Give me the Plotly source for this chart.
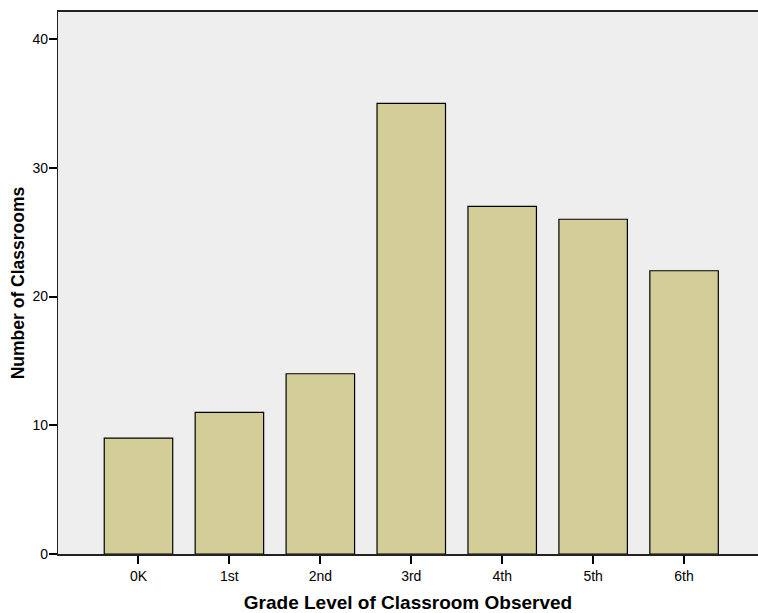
import plotly.graph_objects as go

grades = ["0K", "1st", "2nd", "3rd", "4th", "5th", "6th"]
counts = [9, 11, 14, 35, 27, 26, 22]
y_ticks = [0, 10, 20, 30, 40]

fig = go.Figure(go.Bar(
    x=grades, y=counts, width=0.753,
    marker=dict(color="#D3CE97", line=dict(color="black", width=1.2)),
))

fig.update_layout(
    width=758, height=613,
    margin=dict(l=57.5, r=0, t=12, b=58.5),
    paper_bgcolor="white", plot_bgcolor="#EEEEEE",
    font=dict(family="Liberation Sans, Arial, sans-serif", size=14, color="black"),
    showlegend=False,
)
fig.update_xaxes(
    type="category", range=[-0.885, 6.813],
    showline=True, linecolor="#222", linewidth=1.5, mirror=True,
    ticks="outside", ticklen=8, tickcolor="black", tickwidth=1.5,
    showgrid=False, zeroline=False,
    title=dict(text="<b>Grade Level of Classroom Observed</b>", font=dict(size=19), standoff=14),
)
fig.update_yaxes(
    range=[0, 42.1], tickvals=y_ticks,
    showline=True, linecolor="#222", linewidth=1.2, mirror=False,
    ticks="outside", ticklen=8, tickcolor="black", tickwidth=1.5,
    ticklabelstandoff=-2,
    showgrid=False, zeroline=False,
    title=dict(text="<b>Number of Classrooms</b>", font=dict(size=17.5), standoff=3),
)
fig.write_html(
    "out.html",
    config={"displayModeBar": False},
    post_script=("document.body.style.margin='0';document.body.style.overflow='hidden';"
                 "document.documentElement.style.overflow='hidden';"),
)
